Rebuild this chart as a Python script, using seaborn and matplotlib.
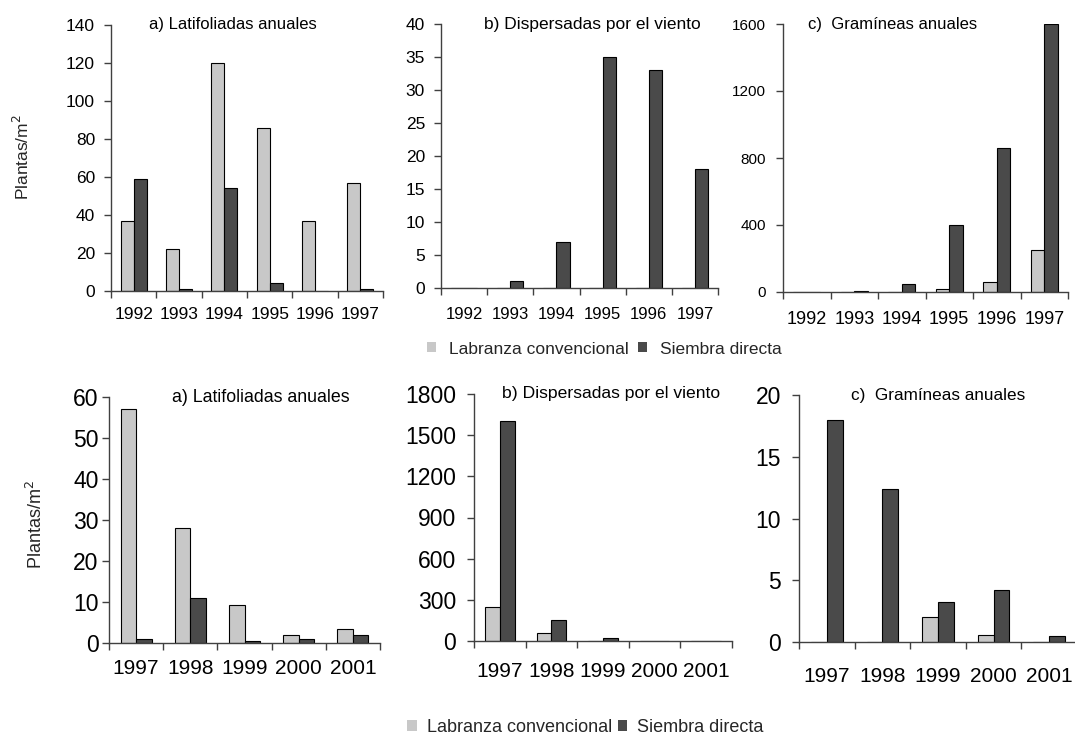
import numpy as np
import pandas as pd
import matplotlib
matplotlib.use("Agg")
import matplotlib.pyplot as plt
from matplotlib.patches import Patch
import seaborn as sns

# --- data -------------------------------------------------------------
years_top = ["1992", "1993", "1994", "1995", "1996", "1997"]
years_bot = ["1997", "1998", "1999", "2000", "2001"]
series = ["Labranza convencional", "Siembra directa"]

lat_lc_top = [37, 22, 120, 86, 37, 57]
lat_sd_top = [59, 1, 54, 4, 0, 1]
disp_lc_top = [0, 0, 0, 0, 0, 0]
disp_sd_top = [0, 1, 7, 35, 33, 18]
gram_lc_top = [0, 0, 0, 20, 60, 250]
gram_sd_top = [0, 8, 50, 400, 860, 1600]

lat_lc_bot = [57, 28, 9.2, 2, 3.3]
lat_sd_bot = [1, 11, 0.5, 1, 2]
disp_lc_bot = [250, 60, 0, 0, 0]
disp_sd_bot = [1600, 150, 25, 0, 0]
gram_lc_bot = [0, 0, 2, 0.6, 0]
gram_sd_bot = [18, 12.4, 3.2, 4.2, 0.5]

titles = ["a) Latifoliadas anuales", "b) Dispersadas por el viento",
          "c)  Gramíneas anuales"]

# --- style ------------------------------------------------------------
sns.set_theme(style="white")
plt.rcParams["font.family"] = ["Liberation Sans", "DejaVu Sans"]
LIGHT = "#c8c8c8"
DARK = "#4a4a4a"
AXC = "#404040"

fig = plt.figure(figsize=(10.75, 7.35), dpi=100)


def long_frame(years, lc, sd):
    return pd.DataFrame({
        "year": years * 2,
        "value": list(lc) + list(sd),
        "serie": [series[0]] * len(years) + [series[1]] * len(years),
    })


def panel(rect, years, lc, sd, ymax, ystep, title, tx, fs_x, fs_y, fs_title,
          ypad, xpad):
    ax = fig.add_axes(rect)
    df = long_frame(years, lc, sd)
    sns.barplot(data=df, x="year", y="value", hue="serie", order=years,
                hue_order=series, palette=[LIGHT, DARK], saturation=1,
                width=0.57, edgecolor="black", linewidth=0.8,
                legend=False, ax=ax)
    n = len(years)
    ax.set_xlim(-0.5, n - 0.5)
    ax.set_ylim(0, ymax)
    ax.set_yticks(np.arange(0, ymax + ystep / 2, ystep))
    ax.set_xticks(range(n))
    ax.set_xticklabels(years)
    ax.set_xticks(np.arange(-0.5, n, 1.0), minor=True)
    ax.tick_params(axis="x", which="major", length=0, pad=xpad,
                   labelsize=fs_x, colors="black")
    ax.tick_params(axis="x", which="minor", length=5, width=1,
                   direction="out", color=AXC, bottom=True)
    ax.tick_params(axis="y", which="major", length=5, width=1,
                   direction="out", pad=ypad, labelsize=fs_y,
                   color=AXC, labelcolor="black", left=True)
    for s in ["top", "right"]:
        ax.spines[s].set_visible(False)
    for s in ["left", "bottom"]:
        ax.spines[s].set_color(AXC)
        ax.spines[s].set_linewidth(1)
    ax.set_xlabel("")
    ax.set_ylabel("")
    ax.grid(False)
    ax.text(tx, 1.0, title, transform=ax.transAxes, ha="center",
            va="center", fontsize=fs_title, color="black")
    return ax


W, H = 1075, 735


def rect(l, r, t, b):
    return [l / W, 1 - b / H, (r - l) / W, (b - t) / H]


# top row
panel(rect(111, 383, 25, 291), years_top, lat_lc_top, lat_sd_top, 140, 20,
      titles[0], 0.449, 12.5, 12.5, 12, 6.5, 11.5)
panel(rect(441, 718, 24, 288), years_top, disp_lc_top, disp_sd_top, 40, 5,
      titles[1], 0.545, 12, 12.5, 12.5, 6.5, 14)
panel(rect(783, 1068, 24, 292), years_top, gram_lc_top, gram_sd_top, 1600, 400,
      titles[2], 0.386, 13, 11, 12, 7, 14)

# bottom row
panel(rect(109, 380, 397, 643), years_bot, lat_lc_bot, lat_sd_bot, 60, 10,
      titles[0], 0.561, 15, 16.5, 12.8, 2.5, 11.5)
panel(rect(474, 732, 394, 641), years_bot, disp_lc_bot, disp_sd_bot, 1800, 300,
      titles[1], 0.531, 15, 16.5, 12.6, 8, 15)
panel(rect(799, 1077, 395, 642), years_bot, gram_lc_bot, gram_sd_bot, 20, 5,
      titles[2], 0.50, 15, 16.5, 12.3, 8, 18)

# y labels
fig.text(22 / W, 1 - 157 / H, "Plantas/m$^2$", rotation=90, ha="center",
         va="center", fontsize=12.5)
fig.text(36 / W, 1 - 525 / H, "Plantas/m$^2$", rotation=90, ha="center",
         va="center", fontsize=13)

# legends
handles = [Patch(facecolor=LIGHT, edgecolor="none", label=series[0]),
           Patch(facecolor=DARK, edgecolor="none", label=series[1])]
fig.legend(handles=handles, loc="center left",
           bbox_to_anchor=(427 / W, 1 - 349 / H),
           ncol=2, frameon=False, fontsize=12.5, handlelength=0.5,
           handleheight=0.5, handletextpad=0.75, columnspacing=0.55,
           borderaxespad=0, borderpad=0)
fig.legend(handles=handles, loc="center left",
           bbox_to_anchor=(407 / W, 1 - 727 / H),
           ncol=2, frameon=False, fontsize=13, handlelength=0.55,
           handleheight=0.55, handletextpad=0.55, columnspacing=0.3,
           borderaxespad=0, borderpad=0)

fig.savefig("out.png", dpi=100)
